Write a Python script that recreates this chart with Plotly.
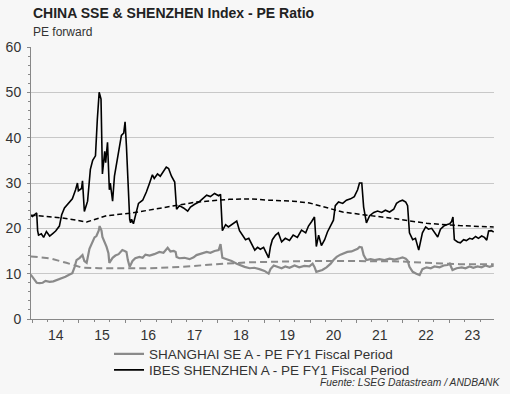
import plotly.graph_objects as go
import pandas as pd

# ---- data (decimal years, PE values) ----
sz_years = [2013.97, 2014.00, 2014.04, 2014.09, 2014.11, 2014.13, 2014.19, 2014.24, 2014.30, 2014.37,
            2014.43, 2014.50, 2014.58, 2014.63, 2014.69, 2014.78, 2014.86, 2014.93, 2014.97, 2014.99,
            2015.06, 2015.08, 2015.12, 2015.19, 2015.25, 2015.30, 2015.36, 2015.40, 2015.44, 2015.48,
            2015.51, 2015.56, 2015.58, 2015.62, 2015.66, 2015.68, 2015.73, 2015.77, 2015.84, 2015.88,
            2015.92, 2015.97, 2016.00, 2016.03, 2016.06, 2016.10, 2016.12, 2016.14, 2016.18, 2016.25,
            2016.29, 2016.38, 2016.46, 2016.53, 2016.59, 2016.63, 2016.70, 2016.76, 2016.83, 2016.89,
            2016.94, 2017.00, 2017.07, 2017.11, 2017.17, 2017.26, 2017.35, 2017.41, 2017.50, 2017.59,
            2017.67, 2017.76, 2017.84, 2017.93, 2018.02, 2018.06, 2018.10, 2018.17, 2018.23, 2018.32,
            2018.41, 2018.47, 2018.54, 2018.60, 2018.67, 2018.73, 2018.80, 2018.86, 2018.92, 2018.99,
            2019.05, 2019.10, 2019.14, 2019.18, 2019.25, 2019.31, 2019.38, 2019.46, 2019.55, 2019.63,
            2019.72, 2019.81, 2019.90, 2019.96, 2020.03, 2020.09, 2020.13, 2020.18, 2020.24, 2020.31,
            2020.37, 2020.44, 2020.50, 2020.54, 2020.61, 2020.70, 2020.78, 2020.87, 2020.95, 2021.02,
            2021.06, 2021.11, 2021.15, 2021.21, 2021.28, 2021.37, 2021.45, 2021.54, 2021.62, 2021.71,
            2021.80, 2021.86, 2021.93, 2021.99, 2022.06, 2022.10, 2022.14, 2022.21, 2022.27, 2022.34,
            2022.38, 2022.42, 2022.49, 2022.55, 2022.62, 2022.68, 2022.75, 2022.81, 2022.88, 2022.94,
            2023.01, 2023.05, 2023.08, 2023.11, 2023.18, 2023.24, 2023.31, 2023.37, 2023.44, 2023.50,
            2023.57, 2023.63, 2023.70, 2023.76, 2023.81, 2023.85, 2023.91, 2023.96]
sz_pe = [22.8, 22.6, 23.0, 23.4, 19.5, 18.5, 18.8, 18.0, 19.3, 18.3,
         18.8, 19.4, 20.5, 23.0, 24.5, 25.5, 26.5, 28.5, 30.0, 28.3,
         28.8, 30.5, 23.7, 26.0, 33.0, 35.0, 36.0, 44.0, 50.0, 48.5,
         32.0, 37.0, 34.5, 39.0, 28.5, 30.0, 26.0, 31.5, 35.5, 37.5,
         40.5, 41.0, 43.5, 38.0, 30.0, 22.0, 21.2, 22.0, 21.0, 23.5,
         25.5, 26.2, 28.0, 30.0, 31.8, 31.0, 32.0, 31.5, 32.5, 33.5,
         33.2, 31.5, 30.2, 24.2, 25.0, 24.5, 23.8, 24.7, 25.3, 25.8,
         26.5, 27.3, 27.0, 27.7, 27.2, 27.5, 19.5, 20.8, 20.3, 21.0,
         21.6, 19.5, 18.3, 17.5, 17.8, 16.5, 15.2, 15.8, 15.4, 15.8,
         14.5, 13.5, 16.0, 17.5, 18.5, 19.0, 17.0, 17.8, 17.3, 18.5,
         18.0, 19.6, 19.0, 20.5, 21.5, 22.5, 16.0, 18.5, 16.2, 17.5,
         19.2, 20.5, 21.8, 25.0, 25.8, 25.5, 26.2, 26.5, 27.0, 28.5,
         30.0, 30.0, 24.7, 21.2, 22.8, 23.5, 23.8, 23.5, 24.0, 23.6,
         24.2, 25.5, 26.0, 26.2, 25.8, 25.0, 19.0, 17.5, 17.8, 15.2,
         17.5, 19.0, 20.3, 19.8, 20.0, 19.0, 18.1, 19.8, 20.5, 20.8,
         21.0, 21.5, 22.5, 17.5, 17.0, 16.8, 17.5, 17.3, 17.8, 17.6,
         18.2, 17.8, 18.3, 18.0, 17.4, 19.4, 19.5, 19.2]

sh_years = [2013.96, 2014.02, 2014.09, 2014.15, 2014.22, 2014.28, 2014.37, 2014.45, 2014.54, 2014.63,
            2014.71, 2014.80, 2014.86, 2014.91, 2014.95, 2015.02, 2015.08, 2015.12, 2015.17, 2015.23,
            2015.30, 2015.34, 2015.38, 2015.43, 2015.45, 2015.49, 2015.51, 2015.56, 2015.60, 2015.64,
            2015.66, 2015.73, 2015.79, 2015.86, 2015.90, 2015.94, 2015.99, 2016.03, 2016.06, 2016.10,
            2016.16, 2016.22, 2016.31, 2016.38, 2016.44, 2016.53, 2016.63, 2016.74, 2016.83, 2016.92,
            2016.98, 2017.05, 2017.09, 2017.11, 2017.17, 2017.28, 2017.39, 2017.48, 2017.54, 2017.65,
            2017.76, 2017.84, 2017.93, 2018.02, 2018.06, 2018.10, 2018.19, 2018.30, 2018.41, 2018.49,
            2018.58, 2018.69, 2018.79, 2018.90, 2019.01, 2019.10, 2019.14, 2019.21, 2019.29, 2019.38,
            2019.46, 2019.55, 2019.66, 2019.76, 2019.87, 2019.98, 2020.05, 2020.09, 2020.13, 2020.20,
            2020.26, 2020.35, 2020.44, 2020.50, 2020.57, 2020.65, 2020.72, 2020.80, 2020.89, 2020.98,
            2021.02, 2021.06, 2021.11, 2021.15, 2021.21, 2021.30, 2021.39, 2021.49, 2021.60, 2021.71,
            2021.82, 2021.93, 2021.99, 2022.06, 2022.10, 2022.14, 2022.21, 2022.29, 2022.36, 2022.42,
            2022.51, 2022.60, 2022.68, 2022.79, 2022.88, 2022.96, 2023.01, 2023.07, 2023.16, 2023.27,
            2023.35, 2023.44, 2023.52, 2023.61, 2023.70, 2023.78, 2023.87, 2023.96]
sh_pe = [9.8, 9.0, 8.0, 7.9, 8.0, 8.4, 8.2, 8.3, 8.6, 9.0,
         9.3, 9.8, 10.1, 11.5, 13.0, 13.5, 14.1, 12.8, 12.4, 15.5,
         17.0, 18.0, 18.3, 19.5, 20.5, 19.5, 18.1, 17.0, 15.9, 14.5,
         12.4, 13.5, 14.0, 14.3, 14.8, 15.2, 15.0, 14.8, 13.0, 11.5,
         12.8, 13.4, 13.7, 13.5, 14.2, 14.0, 14.3, 14.8, 14.6, 15.7,
         14.9, 15.0, 14.8, 13.7, 13.4, 13.5, 13.2, 13.6, 14.1, 14.4,
         14.8, 14.6, 15.0, 15.2, 16.5, 13.5, 13.2, 12.8, 12.2, 11.8,
         11.5, 11.2, 11.3, 11.0, 10.6, 10.0, 11.0, 11.8, 11.5, 11.2,
         11.6, 11.3, 11.8, 11.4, 11.7, 11.6, 12.2, 11.5, 10.4, 10.6,
         10.8, 11.4, 12.2, 13.0, 13.7, 14.2, 14.5, 14.8, 14.9, 15.2,
         15.5, 15.9, 15.8, 14.1, 13.0, 13.2, 13.0, 13.2, 13.0, 13.3,
         13.1, 13.4, 13.6, 13.3, 12.9, 11.5, 10.4, 10.0, 9.7, 11.0,
         11.4, 11.2, 11.6, 11.4, 11.8, 11.9, 12.2, 10.8, 11.2, 11.4,
         11.2, 11.6, 11.3, 11.6, 11.4, 11.8, 11.5, 11.8]

sh_avg_years = [2013.96, 2014.37, 2014.73, 2015.08, 2015.45, 2016.10, 2016.53, 2017.24, 2017.97,
                2018.69, 2019.33, 2019.98, 2020.63, 2021.28, 2021.93, 2022.51, 2023.22, 2023.96]
sh_avg_pe = [13.8, 13.4, 12.4, 11.3, 11.2, 11.2, 11.2, 11.5, 12.1,
             12.5, 12.7, 12.8, 12.8, 12.8, 12.7, 12.4, 12.1, 12.1]

sz_avg_years = [2013.96, 2014.37, 2014.65, 2015.17, 2015.45, 2015.60, 2016.10, 2016.81, 2017.54,
                2018.25, 2018.69, 2019.12, 2019.62, 2019.98, 2020.35, 2020.70, 2021.06, 2021.78,
                2022.51, 2023.22, 2023.96]
sz_avg_pe = [22.9, 22.6, 22.3, 21.4, 22.2, 22.8, 23.3, 24.5, 25.8,
             26.4, 26.5, 26.2, 26.0, 25.6, 24.6, 23.6, 23.1, 22.2,
             21.1, 20.6, 20.3]

series_names = ["SHANGHAI SE A - PE FY1 Fiscal Period", "IBES SHENZHEN A - PE FY1 Fiscal Period"]
y_ticks = [0, 10, 20, 30, 40, 50, 60]


def to_dates(years):
    out = []
    for y in years:
        base = int(y)
        out.append(pd.Timestamp(f"{base}-01-01") + pd.Timedelta(days=(y - base) * 365.25))
    return out


BG = "#f7f7f7"
GRAY = "#8a8a8a"
FONT = "Liberation Sans, Arial, sans-serif"

fig = go.Figure()
fig.add_trace(go.Scatter(x=to_dates(sh_avg_years), y=sh_avg_pe, mode="lines", showlegend=False,
                         line=dict(color=GRAY, width=2, dash="7px,4px"), hoverinfo="skip"))
fig.add_trace(go.Scatter(x=to_dates(sz_avg_years), y=sz_avg_pe, mode="lines", showlegend=False,
                         line=dict(color="#000000", width=1.5, dash="5px,3px"), hoverinfo="skip"))
fig.add_trace(go.Scatter(x=to_dates(sh_years), y=sh_pe, mode="lines", name=series_names[0],
                         line=dict(color=GRAY, width=2.2), legend="legend"))
fig.add_trace(go.Scatter(x=to_dates(sz_years), y=sz_pe, mode="lines", name=series_names[1],
                         line=dict(color="#000000", width=1.6), legend="legend2"))

leg_common = dict(xanchor="left", yanchor="middle", orientation="v",
                  bgcolor="rgba(0,0,0,0)", font=dict(size=13.5, color="#333333"), itemwidth=30)

fig.update_layout(
    width=510, height=394,
    margin=dict(l=31, r=16, t=47, b=75, autoexpand=False),
    paper_bgcolor=BG, plot_bgcolor=BG,
    font=dict(family=FONT, color="#333333", size=13),
    showlegend=True,
    legend=dict(x=0.1685, y=-0.129, **leg_common),
    legend2=dict(x=0.1685, y=-0.188, **leg_common),
    annotations=[
        dict(text="<b>CHINA SSE & SHENZHEN Index - PE Ratio</b>", xref="paper", yref="paper",
             x=0, y=1.125, xanchor="left", yanchor="middle", showarrow=False,
             font=dict(size=14, color="#222222")),
        dict(text="PE forward", xref="paper", yref="paper",
             x=0, y=1.055, xanchor="left", yanchor="middle", showarrow=False,
             font=dict(size=12, color="#333333")),
        dict(text="<i>Fuente: LSEG Datastream / ANDBANK</i>", xref="paper", yref="paper",
             x=1.017, y=-0.235, xanchor="right", yanchor="middle", showarrow=False,
             font=dict(size=10.3, color="#333333")),
    ],
)

fig.update_xaxes(
    type="date",
    range=[pd.Timestamp("2013-12-20"), pd.Timestamp("2023-12-20")],
    dtick="M12", tick0="2014-01-01", tickformat="%y", ticklabelmode="period",
    ticks="outside", ticklen=3, tickcolor="#888888",
    minor=dict(dtick="M4", tick0="2014-01-01", ticks="outside", ticklen=2, tickcolor="#888888", showgrid=False),
    showgrid=False, showline=True, linecolor="#888888", linewidth=1,
    tickfont=dict(size=14, color="#333333"), zeroline=False,
)
fig.update_yaxes(
    range=[0, 60], tickvals=y_ticks, ticks="outside", ticklen=3, tickcolor="#888888",
    minor=dict(dtick=2, ticks="outside", ticklen=2, tickcolor="#888888", showgrid=False),
    showgrid=True, gridcolor="#c8c8c8", gridwidth=1,
    showline=True, linecolor="#888888", linewidth=1, zeroline=False,
    tickfont=dict(size=14, color="#333333"), ticklabelstandoff=3,
)

fig.write_html("out.html", config={"displayModeBar": False},
               post_script="document.body.style.margin='0px';document.body.style.background='#f7f7f7';")
